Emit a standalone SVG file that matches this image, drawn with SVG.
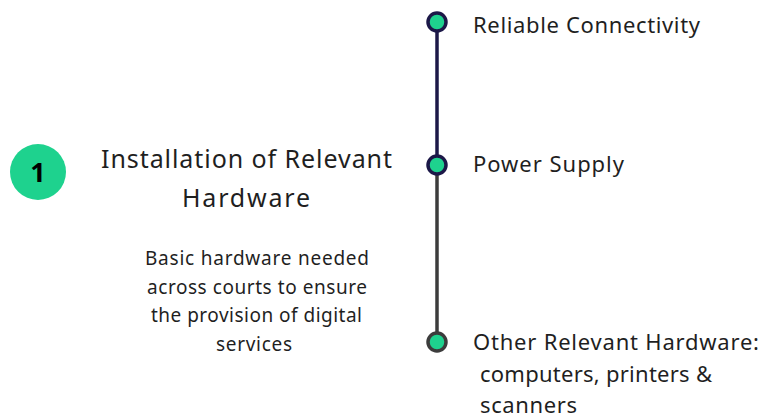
<svg xmlns="http://www.w3.org/2000/svg" width="760" height="418" viewBox="0 0 760 418">
<style>
text{font-family:"Noto Sans","Liberation Sans",sans-serif;fill:#1f1f1f}
.item{font-size:22px}
.title{font-size:25px;text-anchor:middle}
.desc{font-size:19px;text-anchor:middle}
.dot{fill:#1ed28e;stroke-width:3.5}
</style>
<rect width="760" height="418" fill="#fff"/>
<g id="connectors">
<line x1="437" y1="22" x2="437" y2="165" stroke="#1c1848" stroke-width="3.5"/>
<line x1="437" y1="165" x2="437" y2="342" stroke="#3c3c3c" stroke-width="3.5"/>
</g>
<g id="badge">
<circle cx="38" cy="172" r="28" fill="#1ed28e"/>
<text x="38" y="182" font-size="27" font-weight="bold" text-anchor="middle" style="fill:#000">1</text>
</g>
<g id="heading">
<text class="title" x="246.5" y="168" textLength="291" lengthAdjust="spacing">Installation of Relevant</text>
<text class="title" x="246" y="207" textLength="128" lengthAdjust="spacing">Hardware</text>
<text class="desc" x="257" y="265" textLength="224" lengthAdjust="spacing">Basic hardware needed</text>
<text class="desc" x="257" y="294" textLength="220" lengthAdjust="spacing">across courts to ensure</text>
<text class="desc" x="256.5" y="322" textLength="211" lengthAdjust="spacing">the provision of digital</text>
<text class="desc" x="254" y="351" textLength="76" lengthAdjust="spacing">services</text>
</g>
<g id="node-connectivity">
<circle class="dot" cx="437" cy="22" r="9" stroke="#1c1848"/>
<text class="item" x="473" y="33" textLength="227" lengthAdjust="spacing">Reliable Connectivity</text>
</g>
<g id="node-power">
<circle class="dot" cx="437" cy="165" r="9" stroke="#1c1848"/>
<text class="item" x="473" y="172" textLength="151" lengthAdjust="spacing">Power Supply</text>
</g>
<g id="node-hardware">
<circle class="dot" cx="437" cy="342" r="9" stroke="#3c3c3c"/>
<text class="item" x="473" y="350" textLength="286" lengthAdjust="spacing">Other Relevant Hardware:</text>
<text class="item" x="480" y="382" textLength="232" lengthAdjust="spacing">computers, printers &amp;</text>
<text class="item" x="480" y="413" textLength="97" lengthAdjust="spacing">scanners</text>
</g>
</svg>
